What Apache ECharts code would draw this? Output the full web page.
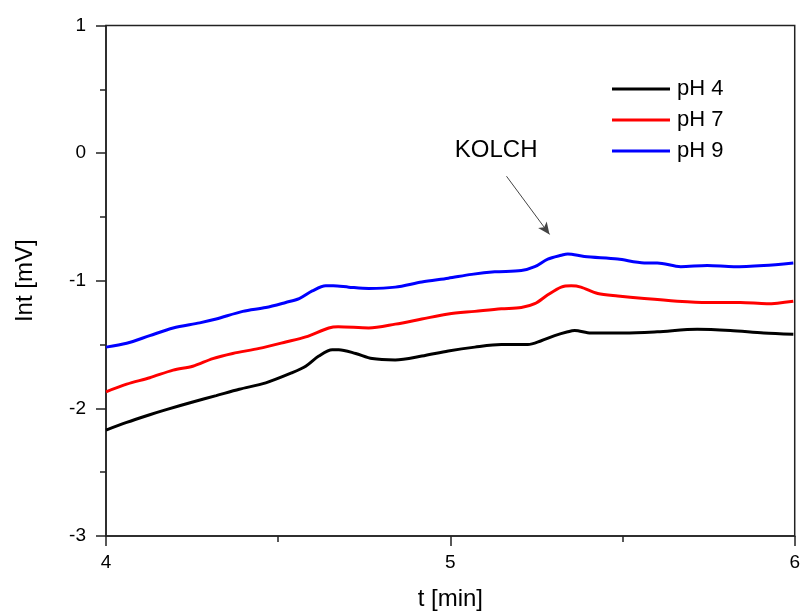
<!DOCTYPE html>
<html>
<head>
<meta charset="utf-8">
<title>Int vs t</title>
<script src="https://cdn.jsdelivr.net/npm/echarts@6/dist/echarts.min.js"></script>
<style>
  html, body { margin: 0; padding: 0; background: #fff; }
  #chart { width: 803px; height: 616px; }
</style>
</head>
<body>
<div id="chart"></div>
<script>
// Time axis [min] and signal [mV] for each pH
const tPH4 = [4.000, 4.060, 4.127, 4.175, 4.252, 4.320, 4.387, 4.464, 4.541, 4.580, 4.618, 4.657, 4.676, 4.725, 4.773, 4.840, 4.917, 4.994, 5.071, 5.148, 5.225, 5.264, 5.303, 5.341, 5.361, 5.408, 5.505, 5.601, 5.717, 5.813, 5.910, 5.996];
const vPH4 = [-2.17, -2.11, -2.05, -2.01, -1.95, -1.90, -1.85, -1.80, -1.72, -1.67, -1.59, -1.54, -1.54, -1.57, -1.61, -1.62, -1.59, -1.55, -1.52, -1.50, -1.50, -1.47, -1.43, -1.40, -1.39, -1.41, -1.41, -1.40, -1.38, -1.39, -1.41, -1.42];

const tPH7 = [4.000, 4.060, 4.127, 4.195, 4.252, 4.310, 4.368, 4.445, 4.522, 4.580, 4.647, 4.674, 4.763, 4.840, 4.917, 4.994, 5.071, 5.148, 5.206, 5.245, 5.283, 5.322, 5.351, 5.379, 5.428, 5.486, 5.563, 5.659, 5.746, 5.842, 5.919, 5.996];
const vPH7 = [-1.87, -1.81, -1.76, -1.70, -1.67, -1.61, -1.57, -1.53, -1.48, -1.44, -1.37, -1.36, -1.37, -1.34, -1.30, -1.26, -1.24, -1.22, -1.21, -1.18, -1.11, -1.05, -1.04, -1.05, -1.10, -1.12, -1.14, -1.16, -1.17, -1.17, -1.18, -1.16];

const tPH9 = [4.000, 4.060, 4.127, 4.195, 4.272, 4.320, 4.397, 4.464, 4.522, 4.561, 4.599, 4.638, 4.660, 4.705, 4.763, 4.840, 4.917, 4.994, 5.062, 5.129, 5.206, 5.245, 5.283, 5.322, 5.341, 5.389, 5.486, 5.563, 5.601, 5.669, 5.746, 5.823, 5.910, 5.996];
const vPH9 = [-1.52, -1.49, -1.43, -1.37, -1.33, -1.30, -1.24, -1.21, -1.17, -1.14, -1.08, -1.04, -1.04, -1.05, -1.06, -1.05, -1.01, -0.98, -0.95, -0.93, -0.92, -0.89, -0.83, -0.80, -0.79, -0.81, -0.83, -0.86, -0.86, -0.89, -0.88, -0.89, -0.88, -0.86];

const seriesNames = ['pH 4', 'pH 7', 'pH 9'];
const seriesColors = ['#000000', '#ff0000', '#0000ff'];

// Annotation: label and arrow pointing at the KOLCH step (data coordinates)
const annotationText = 'KOLCH';
const annotationLabelAt = [5.133, 0.02];
const arrowFrom = [5.163, -0.181];
const arrowTo = [5.288, -0.637];

const zip = (ts, vs) => ts.map((t, i) => [t, vs[i]]);
const seriesData = [zip(tPH4, vPH4), zip(tPH7, vPH7), zip(tPH9, vPH9)];

const FONT = '"Liberation Sans", Arial, sans-serif';
const AXIS_COLOR = '#222';

const chart = echarts.init(document.getElementById('chart'), null, { renderer: 'canvas' });

const series = seriesData.map((d, i) => ({
  name: seriesNames[i],
  type: 'line',
  data: d,
  showSymbol: false,
  smooth: 0.3,
  lineStyle: { color: seriesColors[i], width: 3 },
  itemStyle: { color: seriesColors[i] },
  z: 3
}));

// Arrow and text attached to the last series
series[2].markLine = {
  silent: true,
  symbol: ['none', 'arrow'],
  symbolSize: [8, 12],
  lineStyle: { color: '#444', width: 1, type: 'solid' },
  label: { show: false },
  data: [[{ coord: arrowFrom }, { coord: arrowTo }]]
};
series[2].markPoint = {
  silent: true,
  symbol: 'circle',
  symbolSize: 1,
  itemStyle: { color: 'rgba(0,0,0,0)' },
  label: {
    show: true, position: 'inside', formatter: annotationText,
    color: '#000', fontSize: 24, fontFamily: FONT
  },
  data: [{ coord: annotationLabelAt }]
};

chart.setOption({
  backgroundColor: '#ffffff',
  animation: false,
  textStyle: { fontFamily: FONT },
  grid: {
    left: 106, right: 5, top: 25.5, bottom: 78.5,
    show: true, borderColor: AXIS_COLOR, borderWidth: 1.5,
    backgroundColor: 'transparent'
  },
  legend: {
    orient: 'vertical',
    left: 607, top: 73,
    itemWidth: 58, itemHeight: 20, itemGap: 9,
    icon: 'path://M0,0 L58,0 L58,3 L0,3 Z',
    textStyle: { fontSize: 22, color: '#000', fontFamily: FONT, padding: [0, 0, 0, 2] },
    data: seriesNames
  },
  xAxis: {
    type: 'value',
    min: 4, max: 6, interval: 1,
    name: 't [min]', nameLocation: 'middle', nameGap: 51,
    nameTextStyle: { fontSize: 24, color: '#000', fontFamily: FONT },
    axisLine: { show: true, onZero: false, lineStyle: { color: AXIS_COLOR, width: 1.5 } },
    axisTick: { show: true, inside: false, length: 10, lineStyle: { color: AXIS_COLOR, width: 1.5 } },
    minorTick: { show: true, splitNumber: 2, length: 6, lineStyle: { color: AXIS_COLOR, width: 1.5 } },
    axisLabel: { fontSize: 19, color: '#000', margin: 17, fontFamily: FONT },
    splitLine: { show: false }
  },
  yAxis: {
    type: 'value',
    min: -3, max: 1, interval: 1,
    name: 'Int [mV]', nameLocation: 'middle', nameGap: 69, nameRotate: 90,
    nameTextStyle: { fontSize: 24, color: '#000', fontFamily: FONT },
    axisLine: { show: true, onZero: false, lineStyle: { color: AXIS_COLOR, width: 1.5 } },
    axisTick: { show: true, inside: false, length: 10, lineStyle: { color: AXIS_COLOR, width: 1.5 } },
    minorTick: { show: true, splitNumber: 2, length: 6, lineStyle: { color: AXIS_COLOR, width: 1.5 } },
    axisLabel: { fontSize: 19, color: '#000', margin: 20, fontFamily: FONT },
    splitLine: { show: false }
  },
  series: series
});
</script>
</body>
</html>
